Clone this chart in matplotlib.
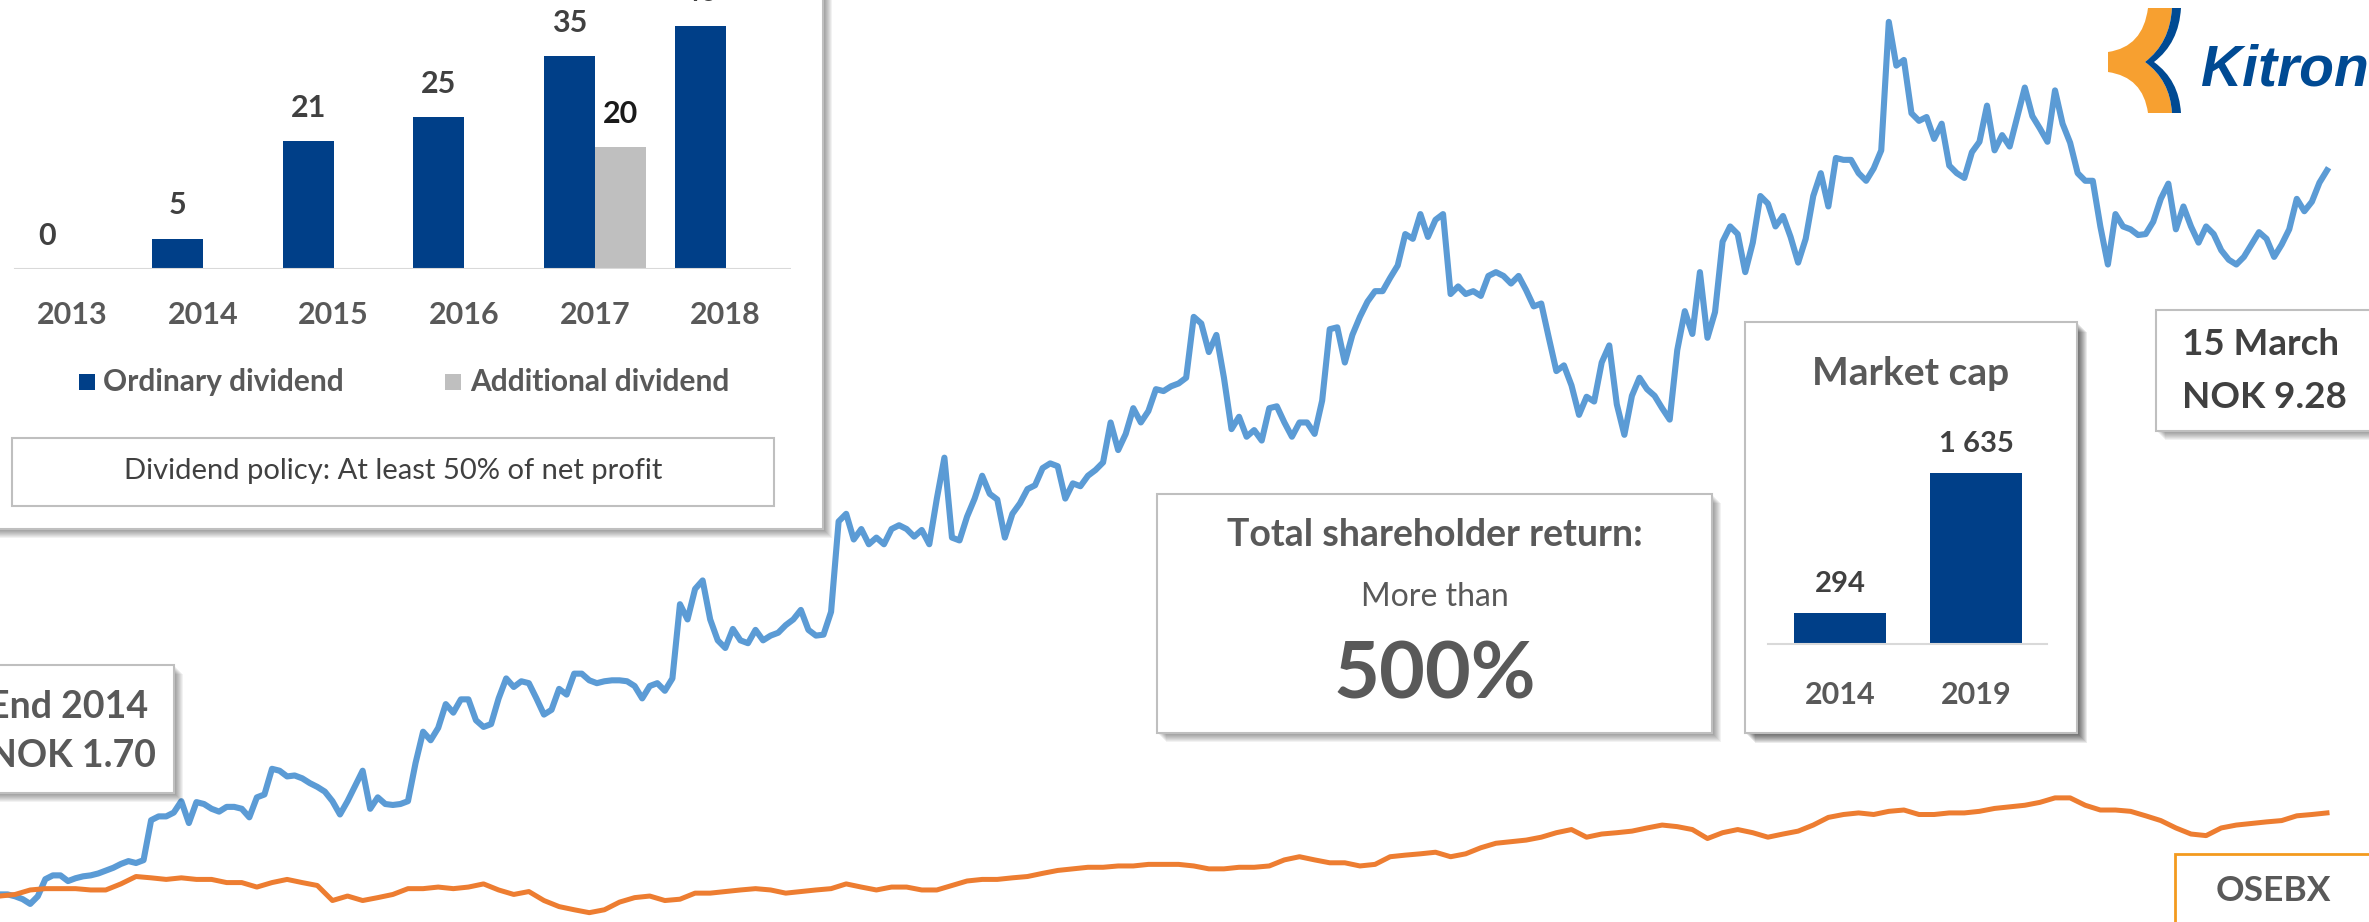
import numpy as np
import pandas as pd
import matplotlib
matplotlib.use("Agg")
import matplotlib.pyplot as plt
import matplotlib.dates as mdates
from matplotlib.patches import Rectangle, PathPatch
from matplotlib.path import Path

plt.rcParams['font.family'] = ['Lato', 'DejaVu Sans']

START_DATE = "2014-12-31"
END_DATE = "2019-03-15"
START_PRICE = 1.70
END_PRICE = 9.28

# Kitron share price in NOK (evenly spaced in time)
KITRON_PRICE = [
    1.67, 1.67, 1.65, 1.62, 1.57, 1.65, 1.83, 1.87, 1.87, 1.81,
    1.84, 1.86, 1.87, 1.89, 1.92, 1.95, 1.99, 2.02, 2.00, 2.03,
    2.45, 2.49, 2.49, 2.53, 2.65, 2.42, 2.64, 2.62, 2.57, 2.54,
    2.59, 2.59, 2.57, 2.48, 2.69, 2.72, 2.99, 2.97, 2.91, 2.92,
    2.89, 2.84, 2.80, 2.75, 2.65, 2.51, 2.65, 2.81, 2.97, 2.57,
    2.69, 2.62, 2.61, 2.62, 2.65, 3.05, 3.38, 3.29, 3.42, 3.67,
    3.58, 3.72, 3.72, 3.50, 3.43, 3.46, 3.73, 3.94, 3.85, 3.91,
    3.89, 3.73, 3.56, 3.61, 3.83, 3.77, 3.99, 3.99, 3.92, 3.89,
    3.91, 3.92, 3.92, 3.91, 3.86, 3.73, 3.86, 3.89, 3.81, 3.94,
    4.72, 4.56, 4.88, 4.97, 4.56, 4.34, 4.26, 4.46, 4.34, 4.31,
    4.45, 4.34, 4.39, 4.42, 4.50, 4.56, 4.66, 4.45, 4.39, 4.40,
    4.64, 5.59, 5.67, 5.40, 5.51, 5.35, 5.42, 5.35, 5.51, 5.55,
    5.51, 5.43, 5.50, 5.35, 5.83, 6.26, 5.42, 5.39, 5.64, 5.83,
    6.07, 5.88, 5.82, 5.42, 5.67, 5.78, 5.93, 5.97, 6.15, 6.20,
    6.17, 5.83, 5.99, 5.96, 6.07, 6.13, 6.21, 6.63, 6.34, 6.51,
    6.78, 6.63, 6.75, 6.98, 6.96, 7.01, 7.04, 7.10, 7.74, 7.67,
    7.37, 7.55, 7.10, 6.56, 6.69, 6.48, 6.55, 6.44, 6.78, 6.80,
    6.63, 6.48, 6.63, 6.63, 6.51, 6.86, 7.61, 7.63, 7.26, 7.55,
    7.74, 7.90, 8.01, 8.01, 8.15, 8.28, 8.61, 8.56, 8.82, 8.58,
    8.76, 8.82, 7.98, 8.06, 7.98, 8.01, 7.96, 8.17, 8.21, 8.17,
    8.09, 8.17, 8.02, 7.85, 7.88, 7.52, 7.17, 7.23, 7.02, 6.71,
    6.90, 6.85, 7.26, 7.44, 6.82, 6.50, 6.91, 7.10, 6.98, 6.91,
    6.78, 6.66, 7.39, 7.80, 7.56, 8.21, 7.52, 7.79, 8.53, 8.69,
    8.61, 8.21, 8.52, 9.01, 8.93, 8.69, 8.80, 8.58, 8.31, 8.56,
    9.01, 9.25, 8.90, 9.41, 9.39, 9.39, 9.25, 9.17, 9.30, 9.49,
    10.84, 10.38, 10.44, 9.88, 9.80, 9.84, 9.61, 9.77, 9.33, 9.25,
    9.20, 9.47, 9.58, 9.96, 9.49, 9.65, 9.53, 9.84, 10.15, 9.85,
    9.72, 9.58, 10.12, 9.77, 9.57, 9.25, 9.17, 9.17, 8.69, 8.29,
    8.82, 8.69, 8.66, 8.60, 8.61, 8.74, 8.98, 9.14, 8.66, 8.90,
    8.69, 8.52, 8.69, 8.61, 8.44, 8.34, 8.29, 8.37, 8.50, 8.63,
    8.56, 8.37, 8.50, 8.66, 8.98, 8.85, 8.95, 9.15, 9.28,
]

# OSEBX index level (evenly spaced in time), rebased to Kitron end-2014 price
OSEBX_INDEX = [
    596, 602, 619, 624, 624, 624, 619, 619, 642, 670,
    665, 659, 665, 659, 659, 647, 647, 630, 647, 659,
    647, 636, 579, 596, 579, 590, 602, 624, 624, 630,
    624, 630, 642, 619, 602, 613, 579, 556, 544, 533,
    544, 573, 590, 596, 579, 584, 607, 607, 613, 619,
    624, 619, 607, 613, 619, 624, 642, 630, 619, 630,
    630, 619, 619, 636, 653, 659, 659, 665, 670, 682,
    693, 699, 705, 705, 710, 710, 716, 716, 716, 710,
    699, 699, 705, 705, 710, 733, 745, 733, 722, 722,
    710, 716, 745, 751, 756, 762, 745, 756, 779, 796,
    802, 808, 819, 836, 848, 819, 831, 836, 842, 854,
    865, 859, 848, 814, 836, 848, 836, 819, 831, 842,
    865, 894, 905, 911, 905, 917, 922, 905, 905, 911,
    911, 917, 928, 934, 940, 951, 968, 968, 940, 922,
    922, 917, 900, 882, 854, 831, 825, 854, 865, 871,
    877, 882, 900, 905, 911,
]
OSEBX_BASE = 613

DIV_YEARS = ["2013", "2014", "2015", "2016", "2017", "2018"]
DIV_ORDINARY = [0, 5, 21, 25, 35, 40]
DIV_ADDITIONAL = [0, 0, 0, 0, 20, 0]

MCAP_YEARS = ["2014", "2019"]
MCAP_VALUES = [294, 1635]
MCAP_LABELS = ["294", "1 635"]

W, H = 2369, 922
BLUE_LINE = "#5B9BD5"
ORANGE_LINE = "#ED7D31"
BAR_BLUE = "#003F88"
BAR_GREY = "#BFBFBF"
TXT = "#595959"
TXT_DARK = "#404040"

fig = plt.figure(figsize=(W / 100, H / 100), dpi=100)
fig.patch.set_facecolor("white")

# price lines
ax = fig.add_axes([0, 0, 1, 1])
ax.axis("off")
kit_dates = pd.date_range(START_DATE, END_DATE, periods=len(KITRON_PRICE))
osebx_dates = pd.date_range(START_DATE, END_DATE, periods=len(OSEBX_INDEX))
osebx_rebased = np.array(OSEBX_INDEX) * START_PRICE / OSEBX_BASE
ax.plot(kit_dates, KITRON_PRICE, color=BLUE_LINE, lw=4.4)
ax.plot(osebx_dates, osebx_rebased, color=ORANGE_LINE, lw=3.6)
t0 = mdates.date2num(pd.Timestamp(START_DATE))
t1 = mdates.date2num(pd.Timestamp(END_DATE))
ax.set_xlim(t0, t0 + (t1 - t0) * W / 2327)
ax.set_ylim(1.38, 11.07)

# overlay in pixel units for boxes and labels
ov = fig.add_axes([0, 0, 1, 1])
ov.set_xlim(0, W)
ov.set_ylim(H, 0)
ov.axis("off")
ov.patch.set_visible(False)


def box(x0, y0, x1, y1, ec="#BFBFBF", alpha=0.05, depth=9, lw=1.5):
    for k in range(1, depth + 1):
        ov.add_patch(Rectangle((x0 + k, y0 + k), x1 - x0, y1 - y0,
                               fc="black", alpha=alpha, lw=0, zorder=1))
    ov.add_patch(Rectangle((x0, y0), x1 - x0, y1 - y0, fc="white",
                           ec=ec, lw=lw, zorder=2))


def label(x, y, s, size, weight="bold", color=TXT, ha="center", **kw):
    ov.text(x, y, s, fontsize=size, fontweight=weight, color=color,
            ha=ha, va="center", zorder=5, **kw)


# dividend panel
box(-20, -20, 823, 529)
ov.add_patch(Rectangle((12, 438), 762, 68, fc="white", ec="#BFBFBF", lw=1.5, zorder=3))
label(393, 471, "Dividend policy: At least 50% of net profit", 21, weight="normal", color=TXT_DARK)
ov.add_patch(Rectangle((79, 374), 16, 16, fc=BAR_BLUE, lw=0, zorder=3))
label(103, 382, "Ordinary dividend", 21.5, ha="left")
ov.add_patch(Rectangle((445, 374), 16, 16, fc=BAR_GREY, lw=0, zorder=3))
label(470, 382, "Additional dividend", 21.5, ha="left")

# end 2014 box
box(-20, 665, 174, 793)
label(-12, 707, "End 2014", 27, ha="left")
label(-12, 756, "NOK %.2f" % START_PRICE, 27, ha="left")

# total shareholder return
box(1157, 494, 1712, 733)
label(1435, 535, "Total shareholder return:", 27)
label(1435, 597, "More than", 23, weight="normal")
label(1435, 676, "500%", 57)

# market cap
box(1745, 322, 2077, 733, alpha=0.08, depth=10)
label(1911, 373, "Market cap", 28)

# latest price
box(2156, 310, 2400, 431)
label(2182, 344, "15 March", 26.5, ha="left", color=TXT_DARK)
label(2182, 397, "NOK %.2f" % END_PRICE, 26.5, ha="left", color=TXT_DARK)

# OSEBX tag
ov.add_patch(Rectangle((2175, 854), 240, 100, fc="white", ec="#F39A1E", lw=2, zorder=3))
label(2273, 891, "OSEBX", 25.5)

# Kitron logo
C3, L, M = Path.CURVE3, Path.LINETO, Path.MOVETO
orange_shape = Path(
    [(2148, 8), (2143, 47), (2108, 52), (2108, 72), (2143, 77), (2148, 113),
     (2172, 113), (2170, 80), (2145, 62), (2170, 43), (2172, 8), (2148, 8)],
    [M, C3, C3, L, C3, C3, L, C3, C3, C3, C3, Path.CLOSEPOLY])
blue_shape = Path(
    [(2172, 8), (2181, 8), (2179, 43), (2154, 62), (2179, 80), (2181, 113),
     (2172, 113), (2170, 80), (2145, 62), (2170, 43), (2172, 8), (2172, 8)],
    [M, L, C3, C3, C3, C3, L, C3, C3, C3, C3, Path.CLOSEPOLY])
ov.add_patch(PathPatch(orange_shape, fc="#F7A030", lw=0, zorder=4))
ov.add_patch(PathPatch(blue_shape, fc="#004A93", lw=0, zorder=4))
ov.text(2201, 86, "Kitron", fontsize=41, fontweight="bold", fontstyle="italic",
        family=["Liberation Sans"], color="#004A93",
        ha="left", va="baseline", zorder=5)

# dividend bars
axd = fig.add_axes([7 / W, (H - 269) / H, 784 / W, 269 / H])
axd.patch.set_visible(False)
axd.axis("off")
axd.set_xlim(-0.5, 5.5)
axd.set_ylim(0, 44.2)
bw = 0.39
xs = np.arange(len(DIV_YEARS))
axd.bar(xs - bw / 2, DIV_ORDINARY, bw, color=BAR_BLUE)
axd.bar(xs + bw / 2, DIV_ADDITIONAL, bw, color=BAR_GREY)
axd.axhline(0, xmin=0.01, xmax=1.0, color="#D9D9D9", lw=1.5)
for i, year in enumerate(DIV_YEARS):
    axd.annotate(year, (i, 0), xytext=(0, -33), textcoords="offset points",
                 ha="center", va="center", fontsize=22, fontweight="bold",
                 color=TXT, annotation_clip=False)
    axd.annotate(str(DIV_ORDINARY[i]), (i - bw / 2, DIV_ORDINARY[i]), xytext=(0, 24),
                 textcoords="offset points", ha="center", va="center", fontsize=22,
                 fontweight="bold", color=TXT_DARK, annotation_clip=False)
    if DIV_ADDITIONAL[i]:
        axd.annotate(str(DIV_ADDITIONAL[i]), (i + bw / 2, DIV_ADDITIONAL[i]), xytext=(0, 24),
                     textcoords="offset points", ha="center", va="center", fontsize=22,
                     fontweight="bold", color="#1A1A1A", annotation_clip=False)

# market cap bars
axm = fig.add_axes([1772 / W, (H - 644) / H, 272 / W, 244 / H])
axm.patch.set_visible(False)
axm.axis("off")
axm.set_xlim(-0.5, 1.5)
axm.set_ylim(0, 2333)
xm = np.arange(len(MCAP_YEARS))
axm.bar(xm, MCAP_VALUES, 0.67, color=BAR_BLUE)
axm.axhline(0, xmin=-0.015, xmax=1.01, color="#D9D9D9", lw=1.5, clip_on=False)
for i, year in enumerate(MCAP_YEARS):
    axm.annotate(year, (i, 0), xytext=(0, -37), textcoords="offset points",
                 ha="center", va="center", fontsize=22, fontweight="bold",
                 color=TXT, annotation_clip=False)
    axm.annotate(MCAP_LABELS[i], (i, MCAP_VALUES[i]), xytext=(0, 21),
                 textcoords="offset points", ha="center", va="center", fontsize=21,
                 fontweight="bold", color=TXT_DARK, annotation_clip=False)

fig.savefig("out.png", dpi=100)
